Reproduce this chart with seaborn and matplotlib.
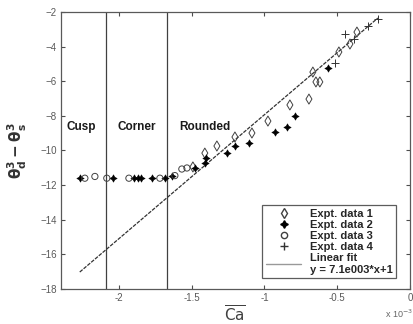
import numpy as np
import pandas as pd
import seaborn as sns
import matplotlib
matplotlib.use("Agg")
import matplotlib.pyplot as plt

# values (x in units of 1e-3)
d1_x = [-1.492, -1.410, -1.327, -1.203, -1.086, -0.976, -0.825, -0.694,
        -0.667, -0.646, -0.619, -0.488, -0.412, -0.364]
d1_y = [-10.95, -10.15, -9.74, -9.22, -8.99, -8.30, -7.37, -7.03,
        -5.47, -6.04, -6.04, -4.31, -3.85, -3.16]

d2_x = [-2.265, -2.044, -1.898, -1.870, -1.850, -1.774, -1.685, -1.637,
        -1.478, -1.410, -1.403, -1.258, -1.203, -1.107, -0.928, -0.846,
        -0.791, -0.564]
d2_y = [-11.6, -11.6, -11.6, -11.6, -11.6, -11.6, -11.6, -11.5,
        -11.01, -10.72, -10.43, -10.15, -9.74, -9.57, -8.93, -8.64,
        -8.01, -5.24]

d3_x = [-2.235, -2.166, -2.084, -1.932, -1.719, -1.616, -1.568, -1.533]
d3_y = [-11.6, -11.5, -11.6, -11.6, -11.6, -11.45, -11.07, -11.01]

d4_x = [-0.516, -0.447, -0.385, -0.289, -0.220]
d4_y = [-4.95, -3.27, -3.56, -2.81, -2.40]

fit_x = [-2.27, -0.22]
fit_y = [-17.02, -2.35]

regime_edges = [-2.09, -1.67]
regime_names = ["Cusp", "Corner", "Rounded"]
regime_x = [-2.26, -1.88, -1.41]

x_ticks = [-2, -1.5, -1, -0.5, 0]
y_ticks = [-2, -4, -6, -8, -10, -12, -14, -16, -18]

sns.set_theme(style="ticks")
plt.rcParams['font.family'] = ['Liberation Sans', 'DejaVu Sans']
plt.rcParams['mathtext.fontset'] = 'dejavusans'

fig = plt.figure(figsize=(4.14, 3.24), dpi=100, facecolor='white')
ax = fig.add_axes([0.147, 0.108, 0.843, 0.855])

d1 = pd.DataFrame({"x": d1_x, "y": d1_y})
d2 = pd.DataFrame({"x": d2_x, "y": d2_y})
d3 = pd.DataFrame({"x": d3_x, "y": d3_y})
d4 = pd.DataFrame({"x": d4_x, "y": d4_y})
fit = pd.DataFrame({"x": fit_x, "y": fit_y})

for xe in regime_edges:
    ax.axvline(xe, color='0.25', lw=0.9, zorder=1)

sns.lineplot(data=fit, x="x", y="y", ax=ax, color='0.2', lw=0.9,
             linestyle=(0, (3, 1)), zorder=2)
sns.scatterplot(data=d1, x="x", y="y", ax=ax, marker='d', s=26,
                facecolor='none', edgecolor='0.25', linewidth=0.7, zorder=3)
sns.scatterplot(data=d2, x="x", y="y", ax=ax, marker=(4, 1, 0), s=28,
                color='black', edgecolor='black', linewidth=0.4, zorder=3)
sns.scatterplot(data=d3, x="x", y="y", ax=ax, marker='o', s=20,
                facecolor='none', edgecolor='0.25', linewidth=0.7, zorder=3)
sns.scatterplot(data=d4, x="x", y="y", ax=ax, marker='+', s=30,
                color='0.2', linewidth=0.7, zorder=3)

for name, xx in zip(regime_names, regime_x):
    ax.text(xx, -8.64, name, ha='center', va='center', fontsize=8.5,
            fontweight='bold', color='0.1')

ax.set_xlim(-2.4, 0)
ax.set_ylim(-18, -2)
ax.set_xticks(x_ticks)
ax.set_xticklabels(["-2", "-1.5", "-1", "-0.5", "0"])
ax.set_yticks(y_ticks)
ax.tick_params(direction='in', top=True, right=True, length=3, width=0.8,
               labelsize=7, colors='0.3', labelcolor='0.35', pad=3)
for sp in ax.spines.values():
    sp.set_color('0.35')
    sp.set_linewidth(0.9)

ax.set_xlabel(r'$\overline{\mathrm{Ca}}$', fontsize=11, color='0.25', labelpad=1)
ax.set_ylabel(r'$\mathbf{\theta_d^3 - \theta_s^3}$', fontsize=11, color='0.2',
              labelpad=8)
fig.text(0.93, 0.02, r'x 10$^{-3}$', fontsize=6.5, color='0.4')

handles = [
    plt.Line2D([], [], ls='none', marker='d', mfc='none', mec='0.25', ms=5.5),
    plt.Line2D([], [], ls='none', marker=(4, 1, 0), color='black', ms=5.5),
    plt.Line2D([], [], ls='none', marker='o', mfc='none', mec='0.25', ms=4.5),
    plt.Line2D([], [], ls='none', marker='+', color='0.2', ms=5.5),
    plt.Line2D([], [], color='0.6', lw=1),
]
labels = ["Expt. data 1", "Expt. data 2", "Expt. data 3", "Expt. data 4",
          "Linear fit\ny = 7.1e003*x+1"]
leg = ax.legend(handles, labels, loc='lower right',
                prop={'weight': 'bold', 'size': 8}, frameon=True,
                fancybox=False, edgecolor='0.2', handlelength=3.2,
                borderpad=0.3, labelspacing=0.1, handletextpad=0.8,
                bbox_to_anchor=(0.977, 0.02))
leg.get_frame().set_linewidth(0.9)

fig.savefig("out.png", dpi=100, facecolor='white')
